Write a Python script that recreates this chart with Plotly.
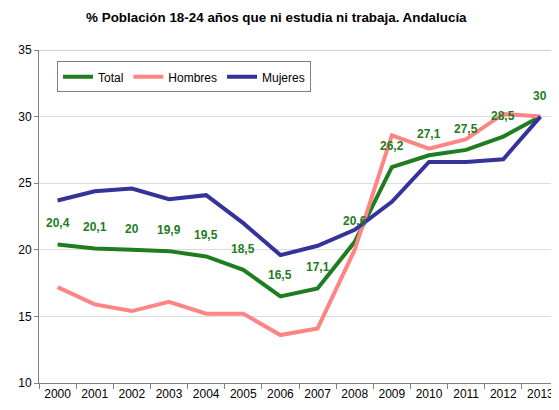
import plotly.graph_objects as go

years = list(range(2000, 2014))
total = [20.4, 20.1, 20.0, 19.9, 19.5, 18.5, 16.5, 17.1, 20.6, 26.2, 27.1, 27.5, 28.5, 30.0]
hombres = [17.2, 15.9, 15.4, 16.1, 15.2, 15.2, 13.6, 14.1, 20.0, 28.6, 27.6, 28.3, 30.2, 30.0]
mujeres = [23.7, 24.4, 24.6, 23.8, 24.1, 22.0, 19.6, 20.3, 21.5, 23.6, 26.6, 26.6, 26.8, 30.0]
total_labels = ["20,4", "20,1", "20", "19,9", "19,5", "18,5", "16,5", "17,1", "20,6",
                "26,2", "27,1", "27,5", "28,5", "30"]
yticks = [10, 15, 20, 25, 30, 35]

GREEN = "#1E7D1E"
PINK = "#FF8585"
NAVY = "#33339A"
FONT = "Liberation Sans, Arial, sans-serif"

fig = go.Figure()
fig.add_trace(go.Scatter(x=years, y=total, name="Total", mode="lines",
                         line=dict(color=GREEN, width=4)))
fig.add_trace(go.Scatter(x=years, y=hombres, name="Hombres", mode="lines",
                         line=dict(color=PINK, width=4)))
fig.add_trace(go.Scatter(x=years, y=mujeres, name="Mujeres", mode="lines",
                         line=dict(color=NAVY, width=4)))

for x, y, t in zip(years, total, total_labels):
    fig.add_annotation(x=x, y=y, text="<b>" + t + "</b>", showarrow=False,
                       yshift=21, font=dict(color=GREEN, size=12, family=FONT))

# page body has an 8px margin: figure is sized/offset to compensate
fig.update_layout(
    width=551, height=402,
    margin=dict(l=31, r=0, t=42, b=27, autoexpand=False),
    paper_bgcolor="white", plot_bgcolor="white",
    font=dict(family=FONT, size=12, color="black"),
    title=dict(text="<b>% Población 18-24 años que ni estudia ni trabaja. Andalucía</b>",
               x=0.487, xanchor="center", xref="container", y=0.977, yanchor="middle",
               font=dict(size=13.4, family=FONT, color="black")),
    showlegend=True,
    legend=dict(orientation="h", x=0.0346, y=0.966, xanchor="left", yanchor="top",
                bordercolor="#808080", borderwidth=1, bgcolor="white",
                font=dict(size=12, family=FONT), itemwidth=30,
                tracegroupgap=0),
)
fig.update_xaxes(range=[1999.5, 2013.5], tickvals=years, ticktext=[str(y) for y in years],
                 showgrid=False, showline=True, linecolor="#808080", linewidth=1,
                 ticks="", tickfont=dict(size=12, family=FONT), automargin=False,
                 minor=dict(tick0=1999.5, dtick=1, ticks="outside", ticklen=5,
                            tickcolor="#808080", showgrid=False),
                 zeroline=False)
fig.update_yaxes(range=[10, 35], tickvals=yticks, showgrid=True, gridcolor="#DCDCDC",
                 showline=True, linecolor="#808080", linewidth=1, automargin=False,
                 ticks="outside", ticklen=4, tickcolor="#808080",
                 tickfont=dict(size=12, family=FONT), zeroline=False)
fig.add_shape(type="line", xref="paper", yref="y", x0=0, x1=1, y0=35, y1=35,
              line=dict(color="#A0A0A0", width=1))

fig.write_html("out.html")
